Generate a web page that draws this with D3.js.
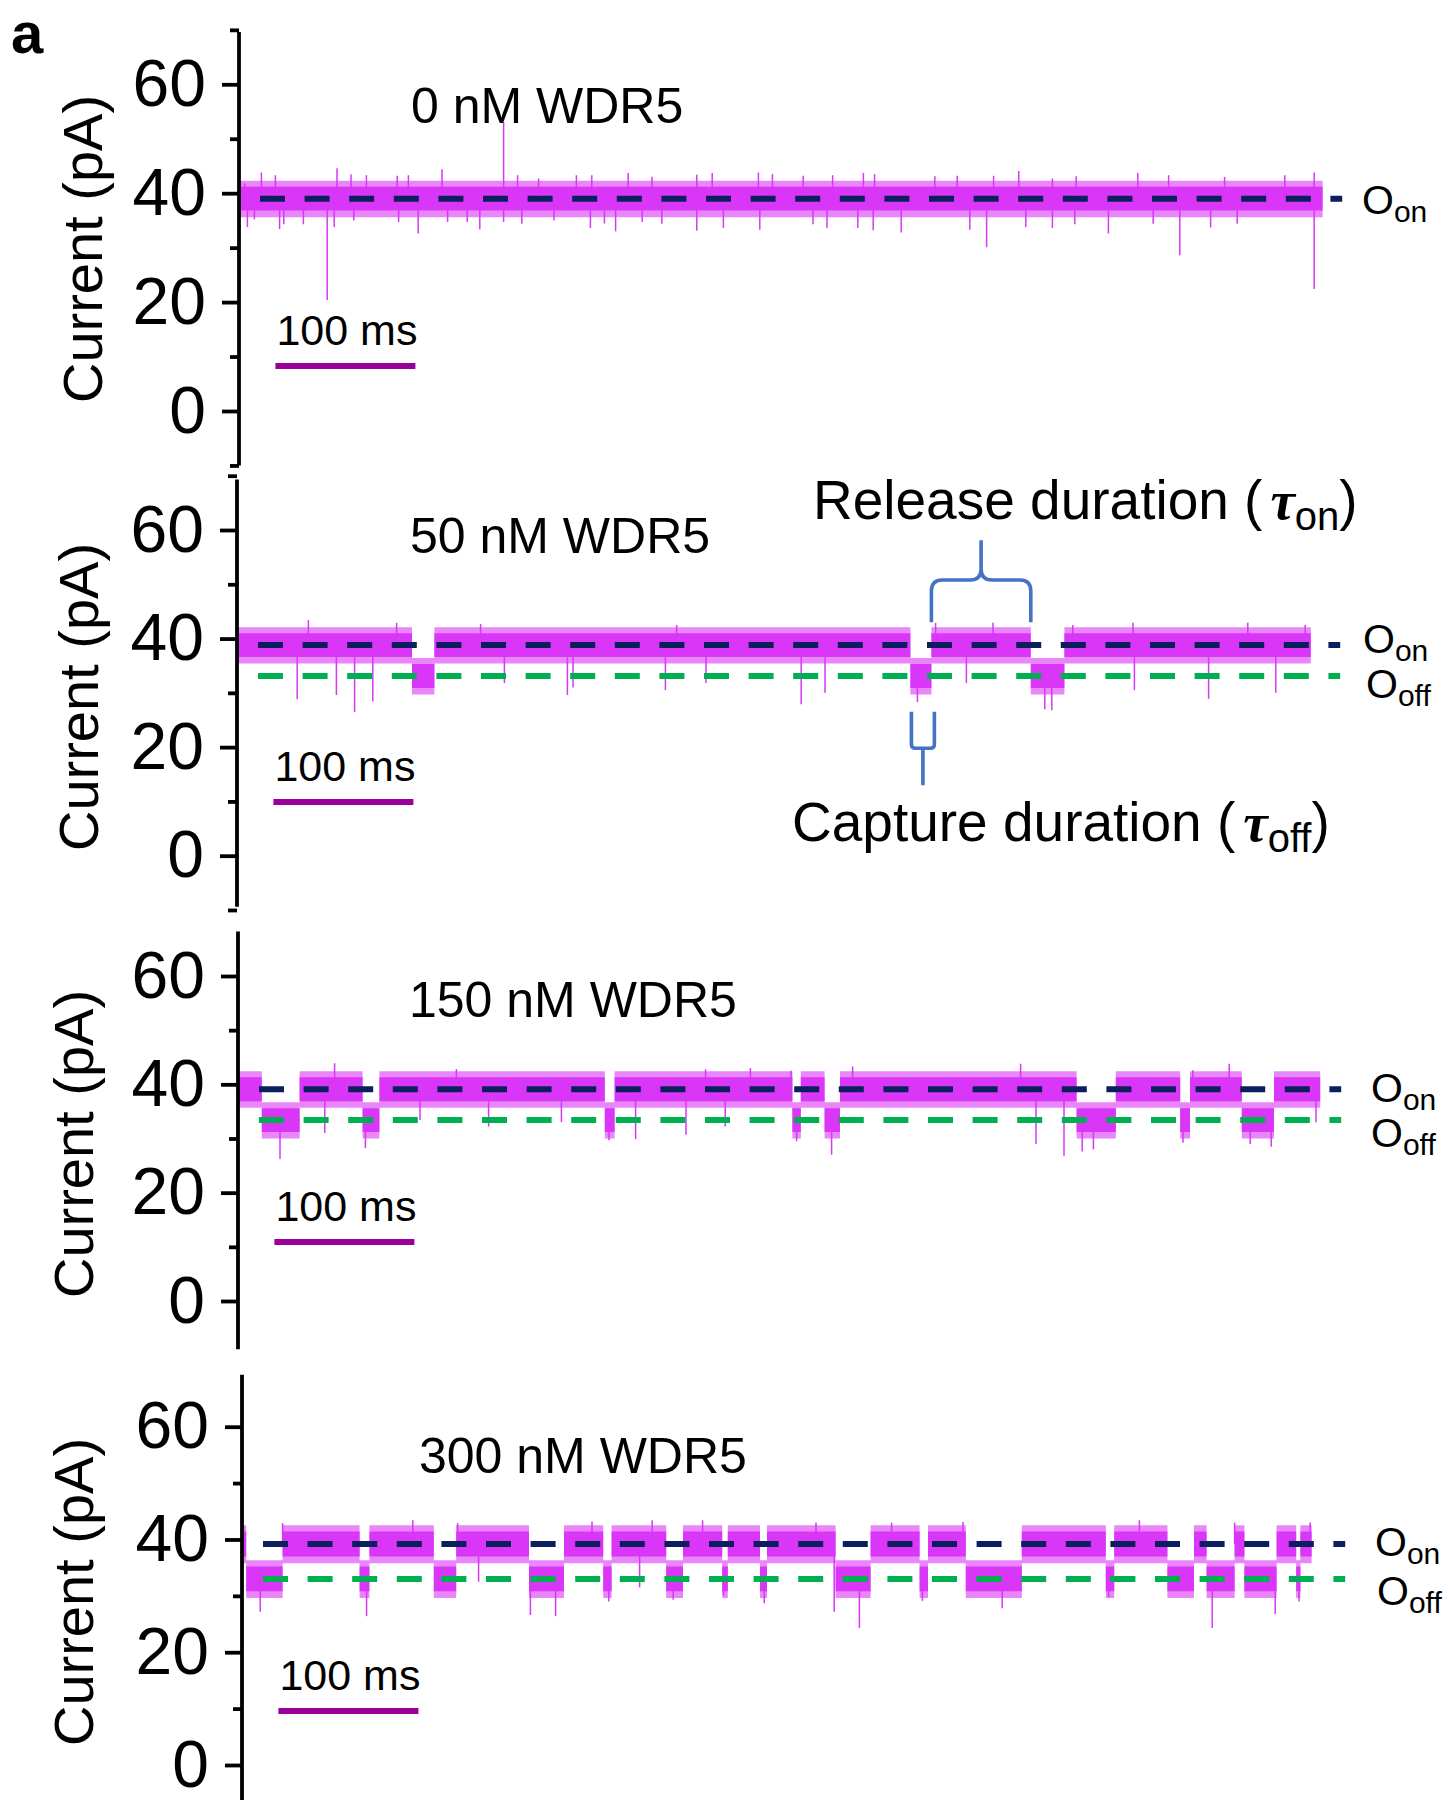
<!DOCTYPE html>
<html>
<head>
<meta charset="utf-8">
<script src="https://cdn.jsdelivr.net/npm/d3@7"></script>
<style>
  html, body { margin: 0; padding: 0; background: #fff; }
  svg { display: block; font-family: "Liberation Sans", Arial, Helvetica, sans-serif; }
</style>
</head>
<body>
<svg id="fig" width="1448" height="1800"></svg>
<script>
// ---- data ---------------------------------------------------------------
// WDR5 concentration of each recording
const panelTitles = ["0 nM WDR5", "50 nM WDR5", "150 nM WDR5", "300 nM WDR5"];
// open (released) and blocked (captured) current levels, pA
const onLevels  = [39.0, 38.8, 39.1, 39.2];
const offLevels = [null, 33.1, 33.4, 33.0];
// length of each displayed trace, ms
const traceLengths = [774, 767, 773, 764];
// capture events [start, end] in ms
const captures0   = [];
const captures50  = [[125, 141], [481, 496], [567, 591]];
const captures150 = [[17, 44], [89, 101], [262, 269], [396, 402], [419, 430], [599, 627], [673, 680], [717, 740]];
const captures300 = [[3, 29], [84, 91], [137, 153], [205, 230], [258, 264], [303, 315], [343, 347], [370, 375],
                     [424, 449], [484, 490], [517, 557], [617, 623], [661, 680], [689, 709], [716, 739], [753, 756]];
// short current spikes [time ms, peak current pA]
const spikes0 = [[4, 41.8], [6, 33.8], [11, 35.2], [16, 43.8], [26, 43.3], [29, 33.4], [32, 34.3], [46, 34.3],
                 [63, 20.4], [68, 33.8], [70, 44.6], [80, 43.5], [82, 35], [91, 43.3], [113, 43.2], [114, 34.7],
                 [121, 43.3], [128, 32.6], [145, 44.4], [149, 34.7], [163, 34.7], [172, 33.4], [189, 53.1],
                 [189, 34.7], [199, 43.3], [202, 34.4], [214, 42.7], [225, 35], [241, 43.3], [251, 33.6],
                 [252, 43.3], [261, 34.4], [269, 33], [278, 43.7], [288, 34.7], [295, 43], [302, 34.4],
                 [327, 43.4], [327, 33.1], [338, 43.7], [346, 33.6], [371, 43.8], [372, 33.3], [381, 43.5],
                 [403, 43.2], [410, 34.3], [420, 33.6], [424, 43.3], [442, 33.6], [446, 43.7], [453, 33.2],
                 [454, 43.5], [473, 32.8], [497, 43.1], [513, 43.2], [522, 33.3], [534, 30.1], [539, 43.2],
                 [557, 44.1], [562, 33.8], [581, 42.7], [581, 33.6], [597, 34.3], [598, 43.1], [621, 32.6],
                 [642, 43.7], [653, 34.4], [664, 43.3], [672, 28.6], [694, 33.7], [704, 43], [713, 34.4],
                 [747, 43.3], [768, 22.4], [768, 43.8]];
const spikes50 = [[43, 28.8], [51, 43.4], [71, 29.6], [84, 26.5], [97, 28.4], [114, 42.9], [174, 42.7], [191, 31.8],
                  [236, 29.6], [240, 31], [306, 30.5], [314, 42.5], [335, 31.8], [403, 27.9], [420, 30], [486, 28.3],
                  [499, 42.9], [521, 31.8], [540, 42.9], [577, 27], [582, 26.8], [597, 42.5], [640, 42.9],
                  [641, 30.5], [694, 28.9], [722, 42.9], [742, 30], [763, 42.5]];
const spikes150 = [[30, 26.2], [62, 31], [69, 43.9], [91, 28.2], [130, 33.4], [156, 42.8], [179, 32.2], [231, 33],
                   [265, 29.7], [284, 29.9], [320, 30.7], [334, 42.8], [348, 32.2], [366, 43], [395, 42.5],
                   [399, 29.5], [424, 27], [439, 43.3], [559, 43.8], [570, 29], [590, 26.8], [603, 27.6], [611, 28],
                   [675, 29.2], [682, 42.6], [708, 43.8], [723, 29], [738, 28.5], [770, 33]];
const spikes300 = [[1, 42.5], [13, 27.2], [29, 42.9], [89, 26.4], [122, 43.4], [154, 42.9], [169, 32.5], [206, 26.6],
                   [224, 26.4], [250, 43.2], [262, 29], [284, 31.5], [293, 43.4], [308, 29.3], [329, 43.4],
                   [344, 30.1], [373, 28.7], [410, 43], [423, 27.2], [441, 24.3], [464, 43], [486, 29.1],
                   [515, 43.1], [543, 27.8], [619, 29.8], [641, 43.4], [693, 24.3], [709, 43], [738, 26.8],
                   [755, 29], [763, 43]];
// noise band half-widths around a level [below, above], pA
const noiseCore   = [2.2, 2.2];
const noiseFringe = [3.4, 3.3];
// axis ticks
const yMajorTicks = [0, 20, 40, 60];
const yMinorTicks = [-10, 10, 30, 50, 70];
// time span of the dashed reference levels, ms
const refSpan = [15, 788];
// scale bar
const scaleBarStart = 26;
const scaleBarMs = 100;

// ---- drawing --------------------------------------------------------------
const TRACE = "#d936f7", NAVY = "#0b1f5e", GREEN = "#00b050", BAR = "#990099", BRACE = "#4472c4";
const SERIF = "'Liberation Serif', 'Times New Roman', serif";

const captures = [captures0, captures50, captures150, captures300];
const spikes = [spikes0, spikes50, spikes150, spikes300];

// panel placement on the page
const layout = [
  { x0: 239, y0: 411.0, y60: 84.3,   ext: [-10, 69.6], title: [411, 123],  ylab: [102, 249],  bar: 366,  on: [1362, 214],  off: null },
  { x0: 237, y0: 855.7, y60: 530.0,  ext: [-9.4, 69.3], title: [410, 553], ylab: [98, 697],   bar: 802,  on: [1363, 653],  off: [1366, 698] },
  { x0: 238, y0: 1301,  y60: 976.0,  ext: [-8.9, 68.2], title: [409, 1017], ylab: [93, 1144], bar: 1242, on: [1371, 1102], off: [1371, 1147] },
  { x0: 242, y0: 1765,  y60: 1426.7, ext: [-10, 69.2], title: [419, 1473], ylab: [93, 1592],  bar: 1711, on: [1375, 1556], off: [1377, 1605] }
];

const svg = d3.select("#fig");

function buildSegments(len, caps, on, off) {
  const segs = [];
  let t = 0;
  caps.forEach(([a, b]) => {
    if (a > t) segs.push([t, a, on]);
    segs.push([a, b, off]);
    t = b;
  });
  if (t < len) segs.push([t, len, on]);
  return segs;
}

function oLabel(g, pos, sub) {
  const t = g.append("text").attr("x", pos[0]).attr("y", pos[1]).attr("font-size", 41).attr("fill", "#000");
  t.append("tspan").text("O");
  t.append("tspan").attr("font-size", 30).attr("dy", 8).text(sub);
}

const scales = [];

layout.forEach((L, i) => {
  const g = svg.append("g").attr("class", "panel");
  const x = d3.scaleLinear().domain([0, 100]).range([L.x0, L.x0 + 140]);
  const y = d3.scaleLinear().domain([0, 60]).range([L.y0, L.y60]);
  scales.push({ x, y });

  const on = onLevels[i], off = offLevels[i];
  const caps = captures[i];
  const levelAt = t => caps.some(([a, b]) => t >= a && t < b) ? off : on;

  // current trace: noise band following the open / captured states
  const segs = buildSegments(traceLengths[i], caps, on, off);
  const pts = segs.flatMap(s => [{ t: s[0], v: s[2] }, { t: s[1], v: s[2] }]);
  const band = h => d3.area().x(d => x(d.t)).y0(d => y(d.v - h[0])).y1(d => y(d.v + h[1]));
  g.append("path").attr("d", band(noiseFringe)(pts)).attr("fill", TRACE).attr("opacity", 0.6);
  g.append("path").attr("d", band(noiseCore)(pts)).attr("fill", TRACE);
  g.append("g").selectAll("line").data(spikes[i]).join("line")
    .attr("x1", d => x(d[0])).attr("x2", d => x(d[0]))
    .attr("y1", d => y(levelAt(d[0]))).attr("y2", d => y(d[1]))
    .attr("stroke", TRACE).attr("stroke-width", 1.5);

  // dashed O_on / O_off levels
  const refs = [[on, NAVY]];
  if (off !== null) refs.push([off, GREEN]);
  refs.forEach(([v, c]) => {
    g.append("line")
      .attr("x1", x(refSpan[0])).attr("x2", x(refSpan[1]))
      .attr("y1", y(v)).attr("y2", y(v))
      .attr("stroke", c).attr("stroke-width", 6).attr("stroke-dasharray", "25 19.6");
  });

  // y axis
  g.append("line")
    .attr("x1", L.x0).attr("x2", L.x0)
    .attr("y1", y(L.ext[0])).attr("y2", y(L.ext[1]))
    .attr("stroke", "#000").attr("stroke-width", 3.8);
  const major = g.append("g").attr("transform", `translate(${L.x0},0)`)
    .call(d3.axisLeft(y).tickValues(yMajorTicks).tickSize(17).tickPadding(16).tickFormat(d3.format("d")));
  major.select(".domain").remove();
  major.selectAll(".tick line").attr("stroke", "#000").attr("stroke-width", 3.8);
  major.selectAll(".tick text").attr("font-size", 66).attr("fill", "#000")
    .attr("font-family", "'Liberation Sans', Arial, sans-serif");
  const minorVals = yMinorTicks.filter(v => v >= L.ext[0] - 0.75 && v <= L.ext[1] + 0.75);
  const minor = g.append("g").attr("transform", `translate(${L.x0},0)`)
    .call(d3.axisLeft(y).tickValues(minorVals).tickSize(9).tickFormat(""));
  minor.select(".domain").remove();
  minor.selectAll(".tick line").attr("stroke", "#000").attr("stroke-width", 3.8);

  g.append("text")
    .attr("transform", `translate(${L.ylab[0]},${L.ylab[1]}) rotate(-90)`)
    .attr("text-anchor", "middle").attr("font-size", 56).attr("fill", "#000")
    .text("Current (pA)");

  // panel title
  g.append("text").attr("x", L.title[0]).attr("y", L.title[1])
    .attr("font-size", 50).attr("fill", "#000").text(panelTitles[i]);

  // time scale bar
  g.append("line")
    .attr("x1", x(scaleBarStart)).attr("x2", x(scaleBarStart + scaleBarMs))
    .attr("y1", L.bar).attr("y2", L.bar)
    .attr("stroke", BAR).attr("stroke-width", 6);
  g.append("text").attr("x", x(scaleBarStart) + 1).attr("y", L.bar - 21)
    .attr("font-size", 43).attr("fill", "#000").text(scaleBarMs + " ms");

  // level labels
  oLabel(g, L.on, "on");
  if (L.off) oLabel(g, L.off, "off");
});

// ---- annotations on the 50 nM trace -----------------------------------------
{
  const { x, y } = scales[1];
  const evA = captures50[1], evB = captures50[2];

  // release duration brace, spanning the open interval between two captures
  const xl = x(evA[1]), xr = x(evB[0]), xc = (xl + xr) / 2;
  const yb = y(43), ys = y(50.8), yt = y(58.1), r = 11;
  const release = d3.path();
  release.moveTo(xl, yb); release.lineTo(xl, ys + r);
  release.quadraticCurveTo(xl, ys, xl + r, ys); release.lineTo(xc - r, ys);
  release.quadraticCurveTo(xc, ys, xc, ys - r); release.lineTo(xc, yt);
  release.moveTo(xc, ys - r);
  release.quadraticCurveTo(xc, ys, xc + r, ys); release.lineTo(xr - r, ys);
  release.quadraticCurveTo(xr, ys, xr, ys + r); release.lineTo(xr, yb);
  svg.append("path").attr("d", release.toString())
    .attr("fill", "none").attr("stroke", BRACE).attr("stroke-width", 3.6);

  // capture duration brace, spanning one capture event
  const cl = x(evA[0]) + 1, cr = x(evA[1]) + 3, cc = (cl + cr) / 2;
  const ct = y(26.5), cb = y(19.8), cs = y(13), q = 4;
  const capture = d3.path();
  capture.moveTo(cl, ct); capture.lineTo(cl, cb - q);
  capture.quadraticCurveTo(cl, cb, cl + q, cb); capture.lineTo(cr - q, cb);
  capture.quadraticCurveTo(cr, cb, cr, cb - q); capture.lineTo(cr, ct);
  capture.moveTo(cc, cb); capture.lineTo(cc, cs);
  svg.append("path").attr("d", capture.toString())
    .attr("fill", "none").attr("stroke", BRACE).attr("stroke-width", 3.6);

  const rt = svg.append("text").attr("x", 813).attr("y", 519).attr("font-size", 55).attr("fill", "#000");
  rt.append("tspan").text("Release duration (");
  rt.append("tspan").attr("dx", 8).attr("font-family", SERIF).attr("font-style", "italic")
    .attr("font-weight", "bold").text("τ");
  rt.append("tspan").attr("font-size", 40).attr("dy", 11).text("on");
  rt.append("tspan").attr("dy", -11).text(")");

  const ctx = svg.append("text").attr("x", 792).attr("y", 841).attr("font-size", 55).attr("fill", "#000");
  ctx.append("tspan").text("Capture duration (");
  ctx.append("tspan").attr("dx", 8).attr("font-family", SERIF).attr("font-style", "italic")
    .attr("font-weight", "bold").text("τ");
  ctx.append("tspan").attr("font-size", 40).attr("dy", 11).text("off");
  ctx.append("tspan").attr("dy", -11).text(")");
}

// figure panel letter
svg.append("text").attr("x", 11).attr("y", 53)
  .attr("font-size", 58).attr("font-weight", "bold").attr("fill", "#000").text("a");
</script>
</body>
</html>
